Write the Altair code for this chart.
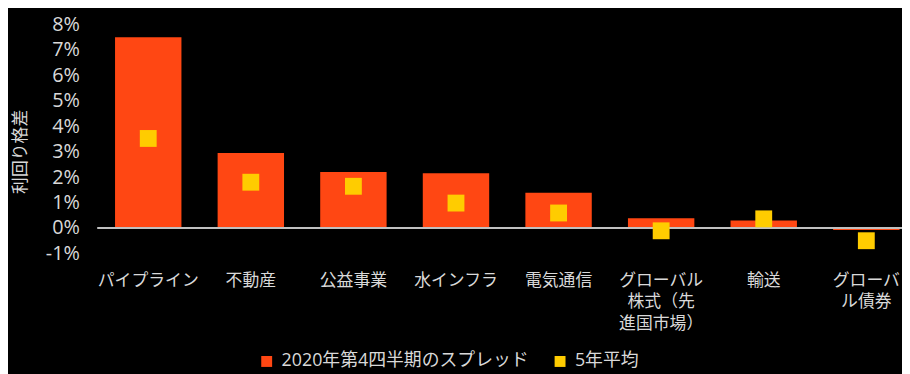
import altair as alt
import pandas as pd

categories = ["パイプライン", "不動産", "公益事業", "水インフラ", "電気通信",
              "グローバル株式（先進国市場）", "輸送", "グローバル債券"]
spread_q4_2020 = [7.5, 2.95, 2.2, 2.15, 1.39, 0.38, 0.29, -0.08]
avg_5y = [3.52, 1.8, 1.64, 0.98, 0.59, -0.11, 0.36, -0.5]
series_names = ["2020年第4四半期のスプレッド", "5年平均"]
y_ticks = [-1, 0, 1, 2, 3, 4, 5, 6, 7, 8]
zero_line = [0]

rows = []
for c, a, b in zip(categories, spread_q4_2020, avg_5y):
    rows.append({"cat": c, "series": series_names[0], "value": a})
    rows.append({"cat": c, "series": series_names[1], "value": b})
df = pd.DataFrame(rows)

FONT = "'Open Sans', 'Noto Sans CJK JP', sans-serif"
TXT = "#d9d9d9"
ORANGE = "#ff4713"
YELLOW = "#ffcc00"

label_expr = (
    "datum.value == 'グローバル株式（先進国市場）' ? ['グローバル', '株式（先', '進国市場）'] : "
    "datum.value == 'グローバル債券' ? ['グローバ', 'ル債券'] : datum.label"
)

x_enc = alt.X(
    "cat:N", sort=categories, title=None,
    scale=alt.Scale(paddingInner=0.3527, paddingOuter=0.099, align=0.878),
    axis=alt.Axis(labelAngle=0, labelFontSize=17, labelColor=TXT, labelFont=FONT,
                  labelPadding=19, labelLineHeight=22, labelBaseline="top",
                  labelLimit=0, ticks=False, domain=False, labelExpr=label_expr),
)

y_scale = alt.Scale(domain=[-1, 8], nice=False, zero=False)
y_axis = alt.Axis(values=y_ticks, labelExpr="datum.value + '%'", grid=False,
                  domain=False, ticks=False, labelPadding=18, labelFontSize=20,
                  labelOverlap=False, labelFlush=False, labelBound=False,
                  labelColor=TXT, labelFont=FONT, titleFont=FONT, titleFontSize=17,
                  titleColor=TXT, titleFontWeight="normal", titleAngle=-90,
                  titleX=-77, titleY=128, titleAlign="center", titleBaseline="middle")
y_enc = alt.Y("value:Q", title="利回り格差", scale=y_scale, axis=y_axis)

color_enc = alt.Color(
    "series:N",
    scale=alt.Scale(domain=series_names, range=[ORANGE, YELLOW]),
    legend=alt.Legend(title=None, orient="none", legendX=162, legendY=331,
                      direction="horizontal", symbolType="square", symbolSize=121,
                      symbolStrokeWidth=0, labelFontSize=18, labelColor=TXT,
                      labelFont=FONT, labelOffset=6, columnPadding=22, padding=0,
                      labelLimit=0),
)

base = alt.Chart(df)
bars = base.transform_filter(alt.datum.series == series_names[0]).mark_bar().encode(
    x=x_enc, y=y_enc, color=color_enc)
rule = alt.Chart(pd.DataFrame({"value": zero_line})).mark_rule(
    color="#c0c0c0", strokeWidth=2).encode(y=y_enc)
points = base.transform_filter(alt.datum.series == series_names[1]).mark_square(
    size=289, opacity=1).encode(x=x_enc, y=y_enc, color=color_enc)

chart = alt.layer(bars, rule, points).properties(
    width=812, height=231,
    autosize=alt.AutoSizeParams(type="none"),
    padding={"left": 90, "top": 15, "right": 0, "bottom": 120},
    background="#000000",
).configure_view(stroke=None).configure_axis(labelOverlap=False)

chart.save("out.html", embed_options={"renderer": "svg", "actions": False})
